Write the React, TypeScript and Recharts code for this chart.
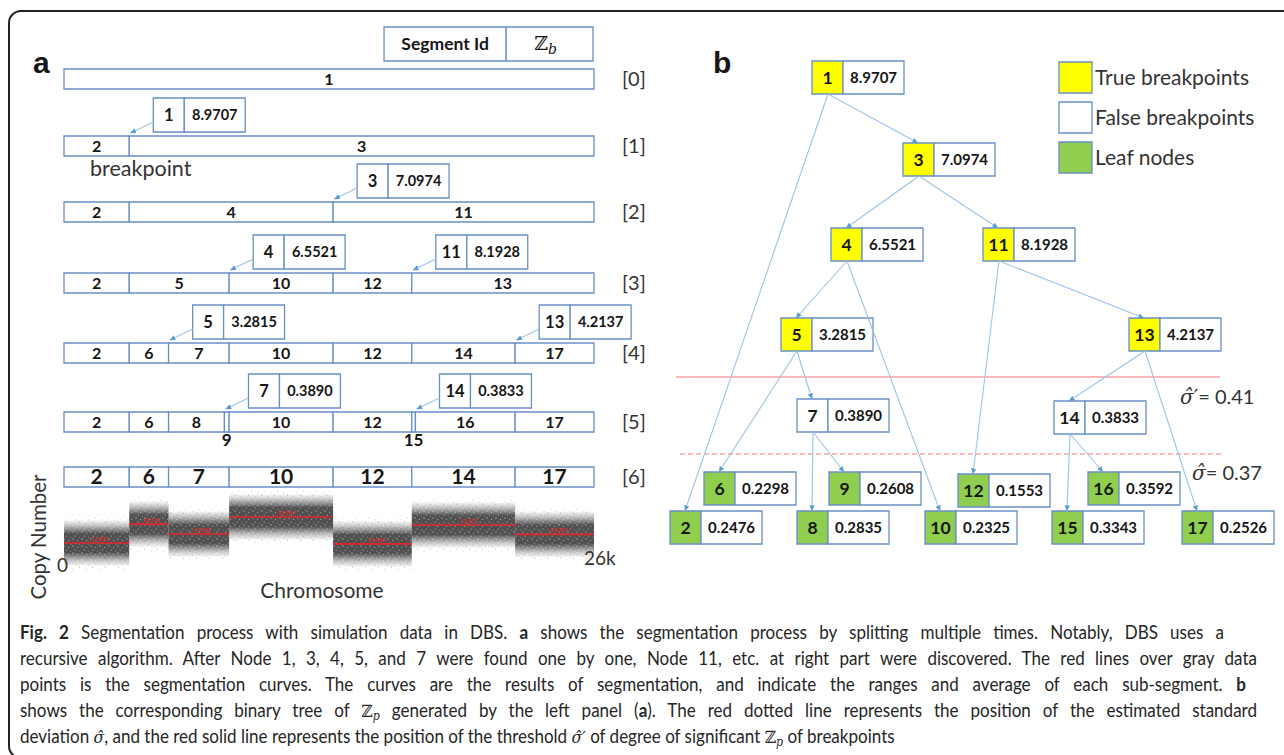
import React from "react";
import { ComposedChart, XAxis, YAxis, ReferenceArea, ReferenceLine } from "recharts";

const FONT = "Lato, 'Open Sans', sans-serif";
const MATH = "'DejaVu Serif', serif";
const INK = "#161616";
const TEXT = "#333333";
const BOX = "#6890c6";
const EDGE = "#9dc3e8";
const YELLOW = "#ffff00";
const GREEN = "#8fce4f";
const RED = "#e3262b";

// ---- segments along the simulated chromosome (probe index) ----
const CHROM_LENGTH = 26000;
const SEG_ID = [1, 2, 3, 4, 5, 6, 7, 8, 9, 10, 11, 12, 13, 14, 15, 16, 17];
const SEG_START = [0, 0, 3200, 3200, 3200, 3200, 5130, 5130, 7870, 8100, 13200, 13200, 17060, 17060, 17060, 17240, 22130];
const SEG_END = [26000, 3200, 26000, 13200, 8100, 5130, 8100, 7870, 8100, 13200, 26000, 17060, 26000, 22130, 17240, 22130, 26000];
const Z_SCORE = [8.9707, 0.2476, 7.0974, 6.5521, 3.2815, 0.2298, 0.389, 0.2835, 0.2608, 0.2325, 8.1928, 0.1553, 4.2137, 0.3833, 0.3343, 0.3592, 0.2526];

// segments present after each splitting round [0]..[6]
const LEVELS = [
  [1],
  [2, 3],
  [2, 4, 11],
  [2, 5, 10, 12, 13],
  [2, 6, 7, 10, 12, 14, 17],
  [2, 6, 8, 9, 10, 12, 15, 16, 17],
  [2, 6, 7, 10, 12, 14, 17],
];

// breakpoints in order of discovery: node, round, left child, right child
const SPLIT_NODE = [1, 3, 4, 11, 5, 13, 7, 14];
const SPLIT_LEVEL = [1, 2, 3, 3, 4, 4, 5, 5];
const SPLIT_LEFT = [2, 4, 5, 12, 6, 14, 8, 15];
const SPLIT_RIGHT = [3, 11, 10, 13, 7, 17, 9, 16];

// final segmentation and mean copy number per segment
const FINAL_IDS = [2, 6, 7, 10, 12, 14, 17];
const CN_MEAN = [11.931, 12.706, 12.302, 12.999, 11.895, 12.671, 12.287];
const CN_SD = 0.37;

const SIGMA_HAT = 0.37;
const SIGMA_PRIME = 0.41;

// ---- layout ----
const ROW_MID = [79, 146, 212, 283, 353, 422, 477];
const ROW_HALF = 10;
const CALLOUT_GAP = 1180;
const CALLOUT_CELL = 1520;
const CALLOUT_W = 4510;

const NODE_W = 92;
const NODE_H = 33;
const NODE_CELL = 31;
const NODE_XY: Record<number, [number, number]> = {
  1: [172, 61],
  3: [263, 143],
  4: [191, 228],
  11: [343, 228],
  5: [141, 318],
  13: [489, 318],
  7: [157, 399],
  14: [414, 401],
  6: [64, 472],
  9: [189, 472],
  12: [318, 474],
  16: [448, 472],
  2: [30, 511],
  8: [157, 511],
  10: [285, 511],
  15: [412, 511],
  17: [542, 511],
};

const segStart = (id: number) => SEG_START[SEG_ID.indexOf(id)];
const segEnd = (id: number) => SEG_END[SEG_ID.indexOf(id)];
const zOf = (id: number) => Z_SCORE[SEG_ID.indexOf(id)];

// chart rows, so every axis has something to compute its scale from
const levelRows = LEVELS.flatMap((ids, level) => ids.map((id) => ({ level, id, start: segStart(id), end: segEnd(id) })));
const finalRows = FINAL_IDS.map((id, i) => ({ id, start: segStart(id), end: segEnd(id), mean: CN_MEAN[i] }));
const nodeRows = SEG_ID.map((id) => ({ id, x: NODE_XY[id][0], y: NODE_XY[id][1], z: zOf(id) }));

const ArrowLine = (p: any) => (
  <line x1={p.x1} y1={p.y1} x2={p.x2} y2={p.y2} stroke={EDGE} strokeWidth={1.1} markerEnd="url(#tip)" />
);

const idLabel = (value: string | number, size: number, position: any = "center", offset = 0) => ({
  value,
  position,
  offset,
  fill: INK,
  fontSize: size,
  fontWeight: 700,
  fontFamily: FONT,
});

const zbLabel = (p: any) => {
  const { x, y, width, height } = p.viewBox;
  return (
    <text x={x + width / 2 - 4} y={y + height / 2 + 6} textAnchor="middle" fontFamily={MATH} fontSize={19} fill={INK}>
      ℤ
      <tspan fontStyle="italic" fontSize={14} dy={4}>
        b
      </tspan>
    </text>
  );
};

function SegmentPanel() {
  const callouts = SPLIT_NODE.map((node, i) => {
    const lv = SPLIT_LEVEL[i];
    const bp = segEnd(SPLIT_LEFT[i]);
    const top = ROW_MID[lv] - ROW_HALF;
    const x1 = bp + CALLOUT_GAP;
    return (
      <React.Fragment key={`c${node}`}>
        <ReferenceLine
          segment={[
            { x: x1, y: top - 14 },
            { x: bp + 60, y: top - 3 },
          ]}
          ifOverflow="visible"
          shape={ArrowLine}
        />
        <ReferenceArea
          x1={x1}
          x2={x1 + CALLOUT_CELL}
          y1={top - 38}
          y2={top - 4}
          fill="#fff"
          fillOpacity={1}
          stroke={BOX}
          strokeWidth={1.3}
          ifOverflow="visible"
          label={idLabel(node, 16.5)}
        />
        <ReferenceArea
          x1={x1 + CALLOUT_CELL}
          x2={x1 + CALLOUT_W}
          y1={top - 38}
          y2={top - 4}
          fill="#fff"
          fillOpacity={1}
          stroke={BOX}
          strokeWidth={1.3}
          ifOverflow="visible"
          label={idLabel(zOf(node).toFixed(4), 14.5)}
        />
      </React.Fragment>
    );
  });

  return (
    <ComposedChart width={650} height={500} data={levelRows} margin={{ top: 0, right: 0, bottom: 0, left: 64 }}>
      <XAxis type="number" dataKey="start" domain={[0, CHROM_LENGTH]} hide allowDataOverflow />
      <YAxis
        type="number"
        orientation="right"
        domain={[0, 500]}
        reversed
        allowDataOverflow
        width={56}
        ticks={ROW_MID}
        interval={0}
        axisLine={false}
        tickLine={false}
        tickSize={6}
        tickMargin={22}
        tickFormatter={(v: number) => `[${ROW_MID.indexOf(v)}]`}
        tick={{ fill: TEXT, fontSize: 20, fontFamily: FONT }}
      />
      <ReferenceArea
        x1={15700}
        x2={21690}
        y1={27}
        y2={61}
        fill="#fff"
        fillOpacity={1}
        stroke={BOX}
        strokeWidth={1.3}
        ifOverflow="visible"
        label={idLabel("Segment Id", 17.5)}
      />
      <ReferenceArea
        x1={21690}
        x2={25950}
        y1={27}
        y2={61}
        fill="#fff"
        fillOpacity={1}
        stroke={BOX}
        strokeWidth={1.3}
        ifOverflow="visible"
        label={zbLabel}
      />
      {levelRows.map((r) => {
        const narrow = r.end - r.start < 600;
        const size = r.level === 6 ? 21 : 16;
        return (
          <ReferenceArea
            key={`r${r.level}-${r.id}`}
            x1={r.start}
            x2={r.end}
            y1={ROW_MID[r.level] - ROW_HALF}
            y2={ROW_MID[r.level] + ROW_HALF}
            fill="#fff"
            fillOpacity={1}
            stroke={BOX}
            strokeWidth={1.3}
            ifOverflow="visible"
            label={narrow ? idLabel(r.id, 17, "bottom", 2) : idLabel(r.id, size)}
          />
        );
      })}
      {callouts}
    </ComposedChart>
  );
}

const ChromTick = (p: any) => {
  const { x, y, payload } = p;
  const first = payload.value === 0;
  return (
    <text x={first ? x - 7 : x - 10} y={first ? y - 18 : y - 25} fontSize={19} fontFamily={FONT} fill={TEXT}>
      {first ? "0" : `${CHROM_LENGTH / 1000}k`}
    </text>
  );
};

const chromLabel = (p: any) => {
  const { x, y, width } = p.viewBox;
  return (
    <text x={x + width / 2 - 7} y={y + 8} textAnchor="middle" fontSize={21} fontFamily={FONT} fill={TEXT}>
      Chromosome
    </text>
  );
};

const cnLabel = (p: any) => {
  const { x, y, height } = p.viewBox;
  const cx = x + 38;
  const cy = y + height / 2 - 3;
  return (
    <text
      x={cx}
      y={cy}
      transform={`rotate(-90 ${cx} ${cy})`}
      textAnchor="middle"
      dominantBaseline="central"
      fontSize={20.5}
      fontFamily={FONT}
      fill={TEXT}
    >
      Copy Number
    </text>
  );
};

const meanLabel = (value: number) => (p: any) => {
  const { x, y, width } = p.viewBox;
  return (
    <text x={x + width * 0.55} y={y - 2} textAnchor="middle" fontSize={5.5} fontWeight={700} fontFamily={FONT} fill={RED}>
      {value.toFixed(3)}
    </text>
  );
};

function CopyNumberPanel() {
  return (
    <ComposedChart width={650} height={180} data={finalRows} margin={{ top: 50, right: 56, bottom: 0, left: 0 }}>
      <XAxis
        type="number"
        dataKey="start"
        domain={[0, CHROM_LENGTH]}
        allowDataOverflow
        ticks={[0, CHROM_LENGTH]}
        interval={0}
        height={30}
        axisLine={false}
        tickLine={false}
        tickSize={0}
        tickMargin={0}
        tick={ChromTick}
        label={chromLabel}
      />
      <YAxis
        type="number"
        dataKey="mean"
        domain={[10, 14.11]}
        allowDataOverflow
        width={64}
        tick={false}
        axisLine={false}
        tickLine={false}
        label={cnLabel}
      />
      {finalRows.map((r) => {
        const m = r.mean;
        return (
          <React.Fragment key={`cn${r.id}`}>
            <ReferenceArea x1={r.start} x2={r.end} y1={m - 3.1 * CN_SD} y2={m + 3.1 * CN_SD} fill="url(#cnSpeck)" fillOpacity={1} stroke="none" ifOverflow="visible" />
            <ReferenceArea x1={r.start} x2={r.end} y1={m - 2.6 * CN_SD} y2={m + 2.6 * CN_SD} fill="url(#cnBand)" fillOpacity={1} stroke="none" ifOverflow="visible" />
            <ReferenceArea x1={r.start} x2={r.end} y1={m - 2.6 * CN_SD} y2={m + 2.6 * CN_SD} fill="url(#cnGrain)" fillOpacity={1} stroke="none" ifOverflow="visible" />
            <ReferenceLine
              segment={[
                { x: r.start, y: m },
                { x: r.end, y: m },
              ]}
              stroke={RED}
              strokeWidth={1.6}
              ifOverflow="visible"
              label={meanLabel(m)}
            />
          </React.Fragment>
        );
      })}
    </ComposedChart>
  );
}

const nodeFill = (id: number) => {
  if (!SPLIT_NODE.includes(id)) return GREEN;
  return zOf(id) > SIGMA_PRIME ? YELLOW : "#fff";
};

const sigmaLabel = (prime: boolean, value: number, dx: number, dy: number) => (p: any) => {
  const { x, y, width } = p.viewBox;
  return (
    <text x={x + width + dx} y={y + dy} fontFamily={FONT} fontSize={20} fill={TEXT}>
      <tspan fontFamily={MATH} fontStyle="italic">
        {"\u03c3\u0302"}
      </tspan>
      {prime ? <tspan fontFamily={MATH}>{"\u2032"}</tspan> : null}= {value.toFixed(2)}
    </text>
  );
};

const LEGEND = [
  { name: "True breakpoints", fill: YELLOW },
  { name: "False breakpoints", fill: "#fff" },
  { name: "Leaf nodes", fill: GREEN },
];

function TreePanel() {
  const edges = SPLIT_NODE.flatMap((parent, i) =>
    [SPLIT_LEFT[i], SPLIT_RIGHT[i]].map((child) => {
      const [px, py] = NODE_XY[parent];
      const [cx, cy] = NODE_XY[child];
      return (
        <ReferenceLine
          key={`e${parent}-${child}`}
          segment={[
            { x: px + 16, y: py + NODE_H },
            { x: cx + 15, y: cy },
          ]}
          ifOverflow="visible"
          shape={ArrowLine}
        />
      );
    })
  );

  return (
    <ComposedChart width={644} height={620} data={nodeRows} margin={{ top: 0, right: 0, bottom: 0, left: 0 }}>
      <XAxis type="number" dataKey="x" domain={[0, 644]} hide allowDataOverflow />
      <YAxis type="number" dataKey="y" domain={[0, 620]} reversed hide allowDataOverflow />
      <ReferenceLine
        segment={[
          { x: 36, y: 377 },
          { x: 580, y: 377 },
        ]}
        stroke="#f87474"
        strokeWidth={1.1}
        ifOverflow="visible"
        label={sigmaLabel(true, SIGMA_PRIME, -40, 27)}
      />
      <ReferenceLine
        segment={[
          { x: 40, y: 454 },
          { x: 584, y: 454 },
        ]}
        stroke="#f6a4a4"
        strokeWidth={1.6}
        strokeDasharray="5 3"
        ifOverflow="visible"
        label={sigmaLabel(false, SIGMA_HAT, -32, 26)}
      />
      {edges}
      {nodeRows.map((n) => (
        <React.Fragment key={`n${n.id}`}>
          <ReferenceArea
            x1={n.x}
            x2={n.x + NODE_CELL}
            y1={n.y}
            y2={n.y + NODE_H}
            fill={nodeFill(n.id)}
            fillOpacity={1}
            stroke={BOX}
            strokeWidth={1.3}
            ifOverflow="visible"
            label={idLabel(n.id, 17.5)}
          />
          <ReferenceArea
            x1={n.x + NODE_CELL}
            x2={n.x + NODE_W}
            y1={n.y}
            y2={n.y + NODE_H}
            fill="#fff"
            fillOpacity={1}
            stroke={BOX}
            strokeWidth={1.3}
            ifOverflow="visible"
            label={idLabel(n.z.toFixed(4), 15)}
          />
        </React.Fragment>
      ))}
      {LEGEND.map((l, i) => (
        <ReferenceArea
          key={l.name}
          x1={419}
          x2={452}
          y1={62 + i * 40}
          y2={93 + i * 40}
          fill={l.fill}
          fillOpacity={1}
          stroke={BOX}
          strokeWidth={1.3}
          ifOverflow="visible"
          label={{ value: l.name, position: "right", offset: 3, fill: TEXT, fontSize: 21, fontFamily: FONT }}
        />
      ))}
    </ComposedChart>
  );
}

// caption: justified lines in a horizontally condensed face
const CAPTION_SCALE = 0.92;
const sigma = (prime = false) => (
  <span style={{ fontFamily: MATH, fontStyle: "italic", fontSize: 17 }}>
    {"\u03c3\u0302"}
    {prime ? "\u2032" : ""}
  </span>
);
const zp = (
  <span style={{ fontFamily: MATH, fontSize: 17 }}>
    ℤ<sub style={{ fontStyle: "italic", fontSize: 12, verticalAlign: "-3px" }}>p</sub>
  </span>
);

function CaptionLine({ width, justify = true, children }: { width: number; justify?: boolean; children: React.ReactNode }) {
  return (
    <div
      style={{
        width: width / CAPTION_SCALE,
        height: 26,
        lineHeight: "26px",
        whiteSpace: "nowrap",
        textAlign: justify ? "justify" : "left",
        textAlignLast: justify ? "justify" : "left",
        transform: `scaleX(${CAPTION_SCALE})`,
        transformOrigin: "0 0",
      }}
    >
      {children}
    </div>
  );
}

function Caption() {
  return (
    <div style={{ position: "absolute", left: 20, top: 618.8, fontFamily: FONT, fontSize: 18.5, color: "#262626" }}>
      <CaptionLine width={1204}>
        <b>Fig. 2</b> Segmentation process with simulation data in DBS. <b>a</b> shows the segmentation process by splitting multiple
        times. Notably, DBS uses a
      </CaptionLine>
      <CaptionLine width={1237}>
        recursive algorithm. After Node 1, 3, 4, 5, and 7 were found one by one, Node 11, etc. at right part were discovered. The red
        lines over gray data
      </CaptionLine>
      <CaptionLine width={1226}>
        points is the segmentation curves. The curves are the results of segmentation, and indicate the ranges and average of each
        sub-segment. <b>b</b>
      </CaptionLine>
      <CaptionLine width={1237}>
        shows the corresponding binary tree of {zp} generated by the left panel (<b>a</b>). The red dotted line represents the position of
        the estimated standard
      </CaptionLine>
      <CaptionLine width={1237} justify={false}>
        deviation {sigma()}, and the red solid line represents the position of the threshold {sigma(true)} of degree of significant {zp}{" "}
        of breakpoints
      </CaptionLine>
    </div>
  );
}

export default function App() {
  return (
    <div style={{ position: "absolute", left: 0, top: 0, width: 1284, height: 755, background: "#fff", overflow: "hidden" }}>
      <svg width={0} height={0} style={{ position: "absolute" }}>
        <defs>
          <marker id="tip" viewBox="0 0 8 8" refX="7.5" refY="4" markerWidth="6" markerHeight="6" markerUnits="userSpaceOnUse" orient="auto">
            <path d="M0,0.5 L8,4 L0,7.5 z" fill="#5b9bd5" />
          </marker>
          <linearGradient id="cnBand" x1="0" y1="0" x2="0" y2="1">
            <stop offset="0" stopColor="#555" stopOpacity={0} />
            <stop offset="0.13" stopColor="#4d4d4d" stopOpacity={0.35} />
            <stop offset="0.3" stopColor="#383838" stopOpacity={0.88} />
            <stop offset="0.7" stopColor="#383838" stopOpacity={0.88} />
            <stop offset="0.87" stopColor="#4d4d4d" stopOpacity={0.35} />
            <stop offset="1" stopColor="#555" stopOpacity={0} />
          </linearGradient>
          <pattern id="cnGrain" width="9" height="7" patternUnits="userSpaceOnUse">
            <circle cx="1" cy="1" r="0.7" fill="#fff" fillOpacity={0.55} />
            <circle cx="5.6" cy="2.4" r="0.6" fill="#fff" fillOpacity={0.45} />
            <circle cx="3.2" cy="5.1" r="0.7" fill="#fff" fillOpacity={0.5} />
            <circle cx="7.7" cy="6.2" r="0.5" fill="#fff" fillOpacity={0.4} />
          </pattern>
          <pattern id="cnSpeck" width="13" height="9" patternUnits="userSpaceOnUse">
            <circle cx="1.5" cy="1.2" r="0.6" fill="#555" fillOpacity={0.4} />
            <circle cx="8" cy="3.1" r="0.6" fill="#555" fillOpacity={0.3} />
            <circle cx="4.6" cy="6.3" r="0.5" fill="#555" fillOpacity={0.35} />
            <circle cx="11" cy="7.8" r="0.6" fill="#555" fillOpacity={0.3} />
          </pattern>
        </defs>
      </svg>

      <div style={{ position: "absolute", left: 0, top: 0 }}>
        <SegmentPanel />
      </div>
      <div style={{ position: "absolute", left: 0, top: 440 }}>
        <CopyNumberPanel />
      </div>
      <div style={{ position: "absolute", left: 640, top: 0 }}>
        <TreePanel />
      </div>

      <svg width={1284} height={755} style={{ position: "absolute", left: 0, top: 0, pointerEvents: "none" }}>
        <rect x={9} y={11} width={1300} height={747} rx={12} fill="none" stroke="#222" strokeWidth={2} />
        <text x={33} y={73} fontFamily="'Liberation Sans', Arial, sans-serif" fontWeight={700} fontSize={30} fill={INK}>
          a
        </text>
        <text x={713} y={73} fontFamily="'Liberation Sans', Arial, sans-serif" fontWeight={700} fontSize={30} fill={INK}>
          b
        </text>
        <text x={90} y={176} fontFamily={FONT} fontSize={21.5} fill={TEXT}>
          breakpoint
        </text>
      </svg>
      <Caption />
    </div>
  );
}
